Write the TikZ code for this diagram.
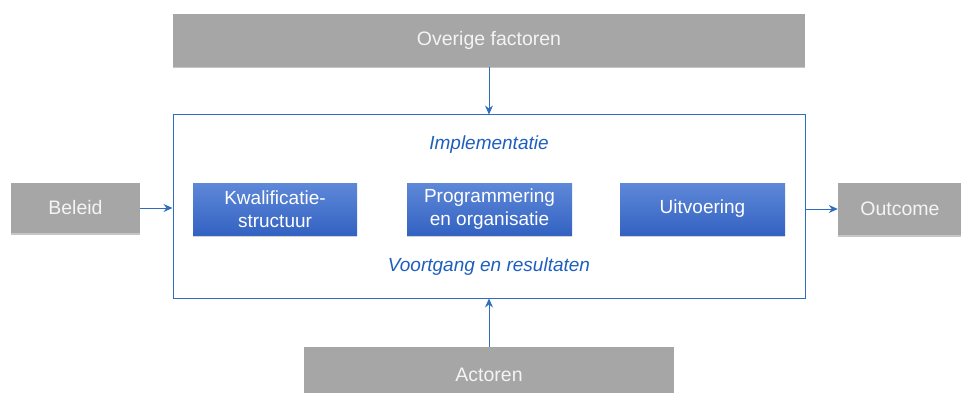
\documentclass[tikz,border=0pt]{standalone}
\usepackage{fontspec}
\setmainfont{Liberation Sans}
\usetikzlibrary{positioning}
\usetikzlibrary{arrows.meta,shadows}
\definecolor{boxgray}{HTML}{A6A6A6}
\definecolor{boxtext}{HTML}{F4F4F4}
\definecolor{linkblue}{HTML}{2F6DBE}
\definecolor{labelblue}{HTML}{1E5FBE}
\definecolor{topblue}{HTML}{5E88D8}
\definecolor{bottomblue}{HTML}{3362C2}
\tikzstyle{factor} = [fill=boxgray, text=boxtext, minimum height=52pt, align=center,
font=\fontsize{19.5}{22}\selectfont, drop shadow={shadow xshift=0pt, shadow yshift=-1.5pt, opacity=0.45}]
\tikzstyle{stage} = [shading=axis, top color=topblue, bottom color=bottomblue, text=white,
minimum width=165pt, minimum height=52pt, align=center, font=\fontsize{19}{23}\selectfont,
drop shadow={shadow xshift=0pt, shadow yshift=-1.5pt, opacity=0.35}]
\tikzstyle{frame} = [draw=linkblue, line width=1pt, minimum width=632pt, minimum height=183pt]
\tikzstyle{caption} = [text=labelblue, font=\fontsize{19}{22}\selectfont\itshape]
\tikzstyle{link} = [-{Stealth[length=9pt,width=8pt,inset=3pt]}, draw=linkblue, line width=1pt]

\begin{document}
\begin{tikzpicture}[x=1pt, y=-1pt]
\useasboundingbox (0,0) rectangle (961,393);
\clip (0,0) rectangle (961,393);

\node (implementatie) at (489,206.5) [frame] {};
\node (implementatielabel) at (489,145) [caption] {Implementatie};
\node (voortganglabel) at (489,267) [caption] {Voortgang en resultaten};

\node (overige) at (489,40.5) [factor, minimum width=632pt, minimum height=53pt] {Overige factoren};
\node (beleid) at (75.5,208) [factor, minimum width=129pt, minimum height=50pt] {Beleid};
\node (outcome) at (900,209) [factor, minimum width=124pt] {Outcome};
\node (actoren) at (489,375) [factor, minimum width=370pt, minimum height=56pt] {Actoren};

\node (kwalificatie) at (275,209) [stage, minimum width=164pt] {Kwalificatie-\\structuur};
\node (programmering) at (489.5,209) [stage] {Programmering\\en organisatie};
\node (uitvoering) at (702.5,209) [stage] {Uitvoering};

\draw [link] (overige.south) -- (implementatie.north);
\draw [link] (actoren.north) -- (implementatie.south);
\draw [link] (beleid.east) -- (beleid.east -| implementatie.west);
\draw [link] (outcome.west -| implementatie.east) -- (outcome.west);
\end{tikzpicture}
\end{document}
